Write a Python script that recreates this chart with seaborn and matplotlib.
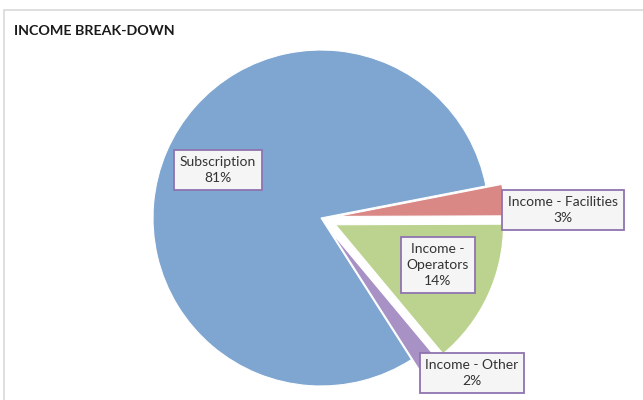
import matplotlib
matplotlib.use("Agg")
import matplotlib.pyplot as plt
import seaborn as sns
from matplotlib.patches import Rectangle

categories = ["Subscription", "Income - Other", "Income - Operators", "Income - Facilities"]
values = [81, 2, 14, 3]
label_texts = ["Subscription\n81%", "Income - Other\n2%", "Income -\nOperators\n14%", "Income - Facilities\n3%"]
colors = ["#7FA6D1", "#A891C4", "#BCD38F", "#D98886"]
explode_px = [0, 16, 16, 16]
label_pos = [(218, 170), (472, 373), (438, 265), (563, 210)]

sns.set_theme(style="white")
plt.rcParams["font.family"] = ["Lato", "DejaVu Sans"]

W, H = 643, 400
fig = plt.figure(figsize=(W / 100, H / 100), dpi=100)
fig.patch.set_facecolor("white")
ax = fig.add_axes([0, 0, 1, 1])

cx, cy, R = 321, H - 218, 168
ax.pie(values, colors=colors, startangle=11, counterclock=True,
       radius=R, center=(cx, cy), explode=explode_px,
       wedgeprops=dict(edgecolor="white", linewidth=0.8))
ax.set_xlim(0, W)
ax.set_ylim(0, H)
ax.set_axis_off()

# chart frame
ax.add_patch(Rectangle((4, -10), W + 10, H, fill=False,
                       edgecolor="#D9D9D9", linewidth=1.2, zorder=0, clip_on=False))

ax.text(14, H - 31, "INCOME BREAK-DOWN", fontsize=10.3, fontweight="bold",
        color="#1A1A1A", ha="left", va="center")

for txt, (x, y) in zip(label_texts, label_pos):
    ax.text(x, H - y, txt, ha="center", va="center", fontsize=10, color="#333333",
            linespacing=1.4,
            bbox=dict(boxstyle="square,pad=0.42", facecolor="#F5F5F5",
                      edgecolor="#8E74B0", linewidth=1.3))

fig.savefig("out.png", dpi=100, facecolor="white")
